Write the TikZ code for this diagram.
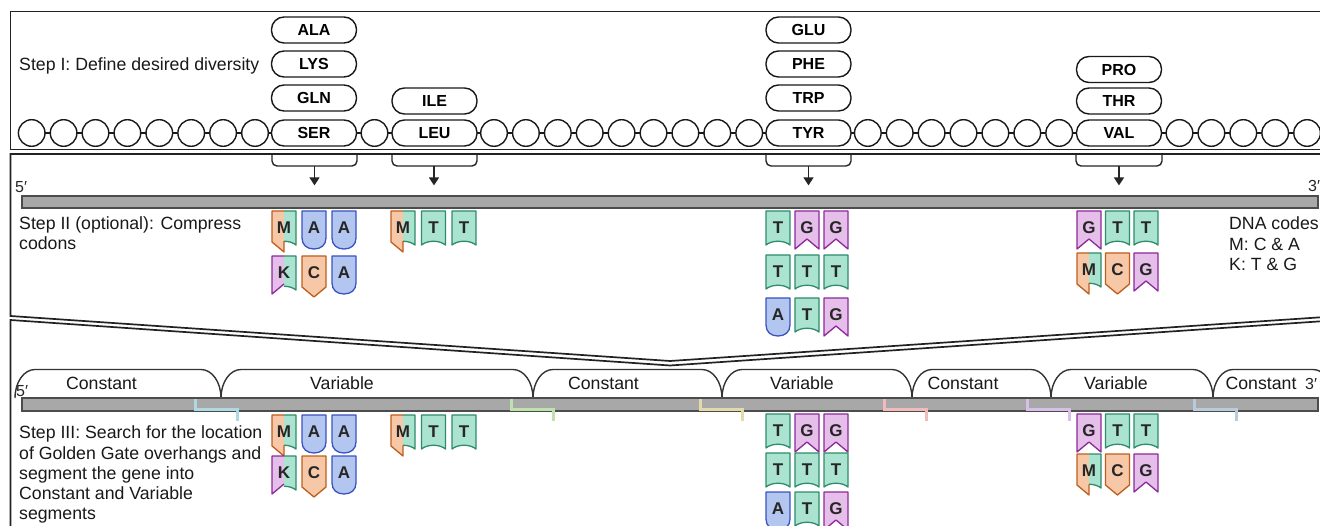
\documentclass[tikz,border=0pt]{standalone}
\usepackage{fontspec}
\setmainfont{Liberation Sans}
\usetikzlibrary{arrows.meta}

\definecolor{frameline}{HTML}{222222}
\definecolor{afill}{HTML}{B3C6F0}\definecolor{aline}{HTML}{3A52C2}
\definecolor{tfill}{HTML}{AAE3CF}\definecolor{tline}{HTML}{2E8C6A}
\definecolor{gfill}{HTML}{E6BEEA}\definecolor{gline}{HTML}{8C2A99}
\definecolor{cfill}{HTML}{F7C8A7}\definecolor{cline}{HTML}{BF5E1C}
\definecolor{barfill}{HTML}{A8A8A8}
\definecolor{ohA}{HTML}{AED9E2}\definecolor{ohB}{HTML}{BEE2AE}
\definecolor{ohC}{HTML}{E3DAAC}\definecolor{ohD}{HTML}{F2BBBB}
\definecolor{ohE}{HTML}{D6C0EA}\definecolor{ohF}{HTML}{BACADD}

% nucleotide glyphs, origin at the top-left corner, y pointing down
\newcommand\ntdrawA{%
  \filldraw[ntline,fill=afill,draw=aline] (0,0) -- (0,27) .. controls (0,34) and (5,38) .. (12,38)
    .. controls (19,38) and (24,34) .. (24,27) -- (24,0) -- cycle;
  \node[nlet] (-l) at (12,17) {A};}
\newcommand\ntdrawT{%
  \filldraw[ntline,fill=tfill,draw=tline] (0,0) -- (0,34) .. controls (6,29) and (18,29) .. (24,34) -- (24,0) -- cycle;
  \node[nlet] (-l) at (12,17) {T};}
\newcommand\ntdrawG{%
  \filldraw[ntline,fill=gfill,draw=gline] (0,0) -- (0,38) -- (12,28) -- (24,38) -- (24,0) -- cycle;
  \node[nlet] (-l) at (12,17) {G};}
\newcommand\ntdrawC{%
  \filldraw[ntline,fill=cfill,draw=cline] (0,0) -- (0,31) -- (12,41) -- (24,31) -- (24,0) -- cycle;
  \node[nlet] (-l) at (12,17) {C};}
\newcommand\ntrighthalfT{%
  \fill[tfill] (12,0) -- (24,0) -- (24,34) .. controls (21,31.5) and (16.5,30.25) .. (12,30.25) -- cycle;
  \draw[ntline,tline] (12,0) -- (24,0) -- (24,34) .. controls (21,31.5) and (16.5,30.25) .. (12,30.25);}
\newcommand\ntdrawM{%
  \fill[cfill] (12,0) -- (0,0) -- (0,31) -- (12,41) -- cycle;
  \ntrighthalfT
  \draw[ntline,cline] (12,30.25) -- (12,41) -- (0,31) -- (0,0) -- (12,0);
  \node[nlet] (-l) at (12,17) {M};}
\newcommand\ntdrawK{%
  \fill[gfill] (12,0) -- (0,0) -- (0,38) -- (12,28) -- cycle;
  \ntrighthalfT
  \draw[ntline,gline] (12,0) -- (0,0) -- (0,38) -- (12,28);
  \node[nlet] (-l) at (12,17) {K};}

% a row of glyphs: name, left x, pitch, top y, list of letters
\newcommand\glyphrow[5]{%
  \foreach \gtype [count=\gi from 1] in {#5}
    \pic (#1\gi) at ({#2+#3*(\gi-1)},#4) {nt=\gtype};}

% one segment cap between two cusps on the bar
\newcommand\segcap[2]{(#1,398) .. controls (#1,382) and (#1+9,369.5) .. (#1+20,369.5)
  -- (#2-20,369.5) .. controls (#2-9,369.5) and (#2,382) .. (#2,398)}

\tikzset{
  pics/nt/.style={code={\csname ntdraw#1\endcsname}},
  ntline/.style={line width=1.3pt,line join=round},
  nlet/.style={font=\fontsize{17}{17}\selectfont\bfseries,text=black!85,inner sep=0pt},
  frame/.style={draw=frameline,line width=1.7pt,line join=miter},
  pill/.style={draw=black!90,line width=1.4pt,fill=white,rounded corners=12.5pt,
    minimum width=85pt,minimum height=26pt,inner sep=0pt,
    font=\fontsize{16}{16}\selectfont\bfseries},
  bead/.style={circle,draw=black!90,line width=1.4pt,fill=white,minimum size=26.6pt,inner sep=0pt},
  chain/.style={draw=black!90,line width=1.4pt},
  brk/.style={draw=black!85,line width=1.4pt,rounded corners=5pt},
  arr/.style={draw=black!85,line width=1.4pt,-{Triangle[length=8pt,width=10pt]},shorten >=10pt},
  bar/.style={draw=black!70,fill=barfill,line width=1.2pt,minimum width=1296pt,inner sep=0pt},
  seg/.style={draw=black!80,line width=1.4pt},
  oh/.style={line width=3pt,line join=miter},
  txt/.style={font=\fontsize{17.7}{20}\selectfont,text=black!90,inner sep=0pt,anchor=base west},
  lab/.style={font=\fontsize{17.7}{20}\selectfont,text=black!90,inner sep=0pt,anchor=base},
  prm/.style={font=\fontsize{16}{16}\selectfont,text=black!85,inner sep=0pt,anchor=base west},
}

\begin{document}
\begin{tikzpicture}[x=1pt,y=-1pt]
\useasboundingbox (0,0) rectangle (1320,526);
\clip (0,0) rectangle (1320,526);
\fill[white] (0,0) rectangle (1320,526);

% ---- three panels ----
\draw[frame] (1340,11.5) -- (10.5,11.5) -- (10.5,149.5) -- (1340,149.5);
\draw[frame] (1340,154) -- (10.5,154) -- (10.5,316) -- (670,361) -- (1340,316);
\draw[frame] (1340,320) -- (670,365.5) -- (10.5,320) -- (10.5,540);

% ---- Step I: protein chain with choices ----
\node[txt] (stepI) at (19,70.5) {Step I: Define desired diversity};

\coordinate (chainstart) at (31.7,133);
\coordinate (chainend) at (1330,133);
\draw[chain] (chainstart) -- (chainend);

\foreach \k in {0,...,7} \node[bead] (ba\k) at ({31.7+31.9*\k},133) {};
\node[bead] (bb0) at (374.5,133) {};
\foreach \k in {0,...,8} \node[bead] (bc\k) at ({494+31.9*\k},133) {};
\foreach \k in {0,...,6} \node[bead] (bd\k) at ({867.8+31.9*\k},133) {};
\foreach \k in {0,...,4} \node[bead] (be\k) at ({1179.5+31.9*\k},133) {};

\node[pill] (ala) at (314,30) {ALA};
\node[pill] (lys) at (314,64) {LYS};
\node[pill] (gln) at (314,98) {GLN};
\node[pill] (ser) at (314,133) {SER};
\node[pill] (ile) at (434.5,101) {ILE};
\node[pill] (leu) at (434.5,133) {LEU};
\node[pill] (glu) at (808.5,30) {GLU};
\node[pill] (phe) at (808.5,64) {PHE};
\node[pill] (trp) at (808.5,98) {TRP};
\node[pill] (tyr) at (808.5,133) {TYR};
\node[pill] (pro) at (1119,69.5) {PRO};
\node[pill] (thr) at (1119,101) {THR};
\node[pill] (val) at (1119,133) {VAL};

% ---- Step II: codons on the gene ----
\node[bar,minimum height=12pt] (bar2) at (670,202) {};
\node[prm] (fiveII) at (15,193) {5′};
\node[prm] (threeII) at (1308,192) {3′};

\draw[brk] (272,155) -- (272,166) -- (357,166) -- (357,155);
\draw[brk] (392,155) -- (392,166) -- (477,166) -- (477,155);
\draw[brk] (766,155) -- (766,166) -- (851,166) -- (851,155);
\draw[brk] (1076,155) -- (1076,166) -- (1162,166) -- (1162,155);
\coordinate (k1) at (314.5,166);
\coordinate (k2) at (434,166);
\coordinate (k3) at (808.5,166);
\coordinate (k4) at (1119,166);
\foreach \k in {k1,k2,k3,k4} \draw[arr] (\k) -- (\k |- bar2.north);

\node[txt] (stepIIa) at (19,229.5) {Step II (optional): Compress};
\node[txt] (stepIIb) at (19,250) {codons};
\node[txt] (codesa) at (1229,229.5) {DNA codes};
\node[txt] (codesb) at (1229,250.5) {M: C \& A};
\node[txt] (codesc) at (1229,270.5) {K: T \& G};

\glyphrow{sIIa}{272}{30}{211}{M,A,A}
\glyphrow{sIIb}{272}{30}{256}{K,C,A}
\glyphrow{sIIc}{391}{30.5}{211}{M,T,T}
\glyphrow{sIId}{766}{29}{211}{T,G,G}
\glyphrow{sIIe}{766}{29}{255}{T,T,T}
\glyphrow{sIIf}{766}{29}{298}{A,T,G}
\glyphrow{sIIg}{1077}{28.5}{211}{G,T,T}
\glyphrow{sIIh}{1077}{28.5}{253}{M,C,G}

% ---- Step III: segmented gene ----
\draw[seg] \segcap{15}{221};
\draw[seg] \segcap{221}{533};
\draw[seg] \segcap{533}{722};
\draw[seg] \segcap{722}{912};
\draw[seg] \segcap{912}{1051};
\draw[seg] \segcap{1051}{1213};
\draw[seg] \segcap{1213}{1333};

\node[lab] (segA) at (101.5,389.5) {Constant};
\node[lab] (segB) at (342,389.5) {Variable};
\node[lab] (segC) at (603.5,389.5) {Constant};
\node[lab] (segD) at (802,389.5) {Variable};
\node[lab] (segE) at (963,389.5) {Constant};
\node[lab] (segF) at (1116,389.5) {Variable};
\node[lab] (segG) at (1261,389.5) {Constant};

\node[bar,minimum height=13pt] (bar3) at (670,404.5) {};
\node[prm] (fiveIII) at (16,396) {5′};
\node[prm] (threeIII) at (1305,390) {3′};

\draw[oh,ohA] (195,399) -- (195,410) -- (237,410) -- (237,421);
\draw[oh,ohB] (511,399) -- (511,410) -- (553,410) -- (553,421);
\draw[oh,ohC] (700,399) -- (700,410) -- (742,410) -- (742,421);
\draw[oh,ohD] (884,399) -- (884,410) -- (926,410) -- (926,421);
\draw[oh,ohE] (1027,399) -- (1027,410) -- (1069,410) -- (1069,421);
\draw[oh,ohF] (1194,399) -- (1194,410) -- (1236,410) -- (1236,421);

\node[txt] (stepIIIa) at (19,438.5) {Step III: Search for the location};
\node[txt] (stepIIIb) at (19,459) {of Golden Gate overhangs and};
\node[txt] (stepIIIc) at (19,479) {segment the gene into};
\node[txt] (stepIIId) at (19,499.3) {Constant and Variable};
\node[txt] (stepIIIe) at (19,519.5) {segments};

\glyphrow{sIIIa}{272}{30}{415}{M,A,A}
\glyphrow{sIIIb}{272}{30}{456}{K,C,A}
\glyphrow{sIIIc}{391}{30.5}{415}{M,T,T}
\glyphrow{sIIId}{766}{29}{414}{T,G,G}
\glyphrow{sIIIe}{766}{29}{453}{T,T,T}
\glyphrow{sIIIf}{766}{29}{492}{A,T,G}
\glyphrow{sIIIg}{1077}{28.5}{414}{G,T,T}
\glyphrow{sIIIh}{1077}{28.5}{454}{M,C,G}
\end{tikzpicture}
\end{document}
